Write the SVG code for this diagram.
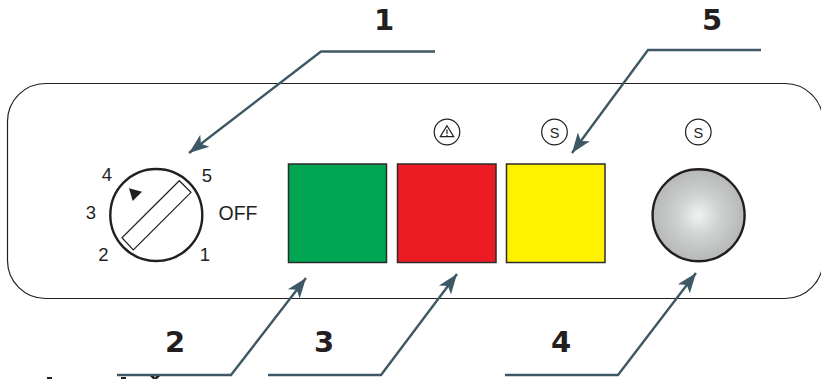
<svg xmlns="http://www.w3.org/2000/svg" width="821" height="379" viewBox="0 0 821 379">
<style>
.c{fill:none;stroke:#3f5866;stroke-width:2.4}
.n{font-family:"DejaVu Sans",sans-serif;font-weight:700;font-size:29px;fill:#231f20;text-anchor:middle}
.l{font-family:"Liberation Sans",Arial,sans-serif;font-size:18.500px;fill:#231f20;text-anchor:middle}
.o{font-size:19.500px}
.s{font-family:"Liberation Sans",Arial,sans-serif;font-size:14.500px;fill:#231f20;text-anchor:middle}
.r{fill:none;stroke:#231f20;stroke-width:1.200}
.b{stroke:#2b2b2b;stroke-width:1.500}
</style>
<defs>
<marker id="a" markerUnits="userSpaceOnUse" markerWidth="22" markerHeight="18" refX="20" refY="9" orient="auto"><path d="M0 1.500L20 9L0 16.500L5 9Z" fill="#3f5866"/></marker>
<radialGradient id="g"><stop offset="0" stop-color="#f1f3f2"/><stop offset=".45" stop-color="#d0d2d2"/><stop offset="1" stop-color="#b6b8b8"/></radialGradient>
</defs>
<g id="panel"><rect x="7.500" y="83.500" width="815.500" height="215" rx="38" fill="#fff" stroke="#231f20" stroke-width="1.200"/></g>
<g id="selector">
<circle cx="156.300" cy="215" r="46" fill="#fff" stroke="#231f20" stroke-width="2.400"/>
<path d="M179.300 180.700L191 192.300L133.300 250L122 237.700Z" fill="#fff" stroke="#231f20" stroke-width="1.200"/>
<path d="M129 188.300L142 191.700L132.700 201Z" fill="#231f20"/>
<text class="l" x="107" y="181">4</text><text class="l" x="207" y="181.500">5</text>
<text class="l" x="91" y="219">3</text><text class="l o" x="238" y="219.500">OFF</text>
<text class="l" x="103.500" y="260.500">2</text><text class="l" x="205" y="261">1</text>
</g>
<g id="green"><rect class="b" x="288.500" y="164" width="98" height="98.500" fill="#00a651"/></g>
<g id="red"><rect class="b" x="397.500" y="164" width="98.500" height="98.500" fill="#ed1c24"/>
<circle class="r" cx="447" cy="132" r="12.800"/><path class="r" d="M447 125.700L453.700 136.700H440.300ZM447 129.500V134M447 135V136" stroke-width=".8"/></g>
<g id="yellow"><rect class="b" x="506.500" y="164" width="98.500" height="98.500" fill="#fff200"/>
<circle class="r" cx="554.500" cy="132" r="12.800"/><text class="s" x="554.500" y="137.500">S</text></g>
<g id="button"><circle cx="698.600" cy="215.300" r="46" fill="url(#g)" stroke="#231f20" stroke-width="2.400"/>
<circle class="r" cx="698.300" cy="132" r="12.800"/><text class="s" x="698.300" y="137.500">S</text></g>
<g id="connectors">
<path class="c" d="M435 51.500H321L189 153" marker-end="url(#a)"/>
<path class="c" d="M761 50H648L572 153" marker-end="url(#a)"/>
<path class="c" d="M117 375H231L306 278" marker-end="url(#a)"/>
<path class="c" d="M268 375H381L457 274" marker-end="url(#a)"/>
<path class="c" d="M505 375H618L696 273" marker-end="url(#a)"/>
</g>
<g id="labels">
<text class="n" x="384" y="29.500">1</text><text class="n" x="712" y="29.500">5</text>
<text class="n" x="175" y="352">2</text><text class="n" x="324" y="352">3</text><text class="n" x="561" y="352">4</text>
</g>
<g id="cropped-marks" fill="#231f20"><rect x="47" y="377" width="5" height="2"/><rect x="121" y="377" width="5" height="2"/><path d="M150 376H154L155 378L156 376H160L157 379H153Z"/></g>
</svg>
